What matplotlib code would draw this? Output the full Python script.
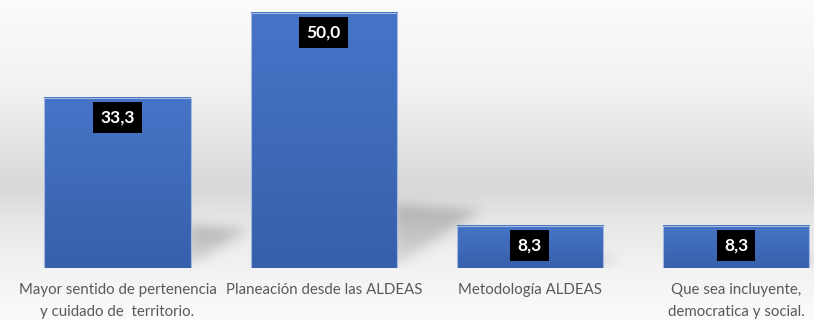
import numpy as np
import matplotlib
matplotlib.use("Agg")
import matplotlib.pyplot as plt
from matplotlib.colors import LinearSegmentedColormap

categories = [
    "Mayor sentido de pertenencia\ny cuidado de  territorio.",
    "Planeación desde las ALDEAS",
    "Metodología ALDEAS",
    "Que sea incluyente,\ndemocratica y social.",
]
values = [33.3, 50.0, 8.3, 8.3]
value_labels = ["33,3", "50,0", "8,3", "8,3"]

plt.rcParams["font.family"] = ["Lato", "DejaVu Sans"]

W, H, DPI = 8.14, 3.2, 100
fig = plt.figure(figsize=(W, H), dpi=DPI)

# Background: soft vertical grey gradient over the whole figure
bg = fig.add_axes([0, 0, 1, 1], zorder=0)
bg.set_axis_off()
stops = [(0.0, "#fbfbfb"), (0.30, "#f1f1f1"), (0.57, "#dadada"),
         (0.60, "#d9d9d9"), (0.68, "#e6e6e6"), (0.84, "#f2f2f2"),
         (1.0, "#fbfbfb")]
bg_cmap = LinearSegmentedColormap.from_list("bg", stops)
grad = np.linspace(0, 1, 320).reshape(-1, 1)
bg.imshow(grad, aspect="auto", cmap=bg_cmap, extent=[0, 1, 0, 1],
          origin="upper", vmin=0, vmax=1)
bg.set_xlim(0, 1)
bg.set_ylim(0, 1)

# Main plotting axes
ax = fig.add_axes([0, 52 / 320, 1, 268 / 320], zorder=1)
ax.patch.set_alpha(0)
x = np.arange(len(values))
width = 0.71
xlim = (-0.570, 3.378)
ylim = (0, 52.45)
ax.set_xlim(*xlim)
ax.set_ylim(*ylim)

# Blurred perspective shadows behind each bar
nx, ny = 814, 268
gx = np.linspace(xlim[0], xlim[1], nx)
gy = np.linspace(ylim[1], ylim[0], ny)
XX, YY = np.meshgrid(gx, gy)
mask = np.zeros((ny, nx))


def in_triangle(px, py, a, b, c):
    def sign(p1x, p1y, p2, p3):
        return (p1x - p3[0]) * (p2[1] - p3[1]) - (p2[0] - p3[0]) * (p1y - p3[1])
    d1 = sign(px, py, a, b)
    d2 = sign(px, py, b, c)
    d3 = sign(px, py, c, a)
    neg = (d1 < 0) | (d2 < 0) | (d3 < 0)
    pos = (d1 > 0) | (d2 > 0) | (d3 > 0)
    return ~(neg & pos)


for xi, v in zip(x, values):
    xr = xi + width / 2
    a = (xr - 0.02, 0.0)
    b = (xr - 0.02, 0.25 * v)
    c = (xr + 0.0082 * v, 0.225 * v)
    tri = in_triangle(XX, YY, a, b, c)
    # darker near the top edge of the shadow
    shade = np.clip(YY / (0.24 * v), 0, 1) * 0.6 + 0.4
    mask = np.maximum(mask, tri * shade)


def blur(img, sigma):
    r = int(3 * sigma)
    k = np.exp(-0.5 * (np.arange(-r, r + 1) / sigma) ** 2)
    k /= k.sum()
    img = np.apply_along_axis(lambda m: np.convolve(m, k, mode="same"), 1, img)
    img = np.apply_along_axis(lambda m: np.convolve(m, k, mode="same"), 0, img)
    return img


mask = blur(mask, 6)
shadow = np.zeros((ny, nx, 4))
shadow[..., :3] = 0.35
shadow[..., 3] = np.clip(mask * 0.36, 0, 1)
ax.imshow(shadow, extent=[xlim[0], xlim[1], ylim[0], ylim[1]],
          aspect="auto", origin="upper", zorder=1, interpolation="bilinear")

# Gradient-filled bars
bar_cmap = LinearSegmentedColormap.from_list("bar", ["#3760ab", "#4674c7"])
bars = ax.bar(x, values, width=width, color="none",
              edgecolor="#a4b8e0", linewidth=0.8, zorder=3)
for rect in bars:
    x0, y0 = rect.get_x(), rect.get_y()
    w, h = rect.get_width(), rect.get_height()
    g = np.linspace(0, 1, 100).reshape(-1, 1)
    ax.imshow(g, extent=[x0, x0 + w, y0, y0 + h], origin="lower",
              aspect="auto", cmap=bar_cmap, vmin=0, vmax=1, zorder=2)

# Value labels in black boxes just below each bar top
for xi, v, lab in zip(x, values, value_labels):
    ax.annotate(lab, xy=(xi, v), xytext=(0, -14.2), textcoords="offset points",
                ha="center", va="center", color="white", fontsize=12.5,
                fontweight="bold", zorder=5,
                bbox=dict(boxstyle="square,pad=0.42", fc="black", ec="none"))

ax.set_xlim(*xlim)
ax.set_ylim(*ylim)
ax.set_xticks(x)
ax.set_xticklabels(categories, color="#595959", fontsize=10.8, linespacing=1.75)
ax.tick_params(axis="x", length=0, pad=10.5)
ax.set_yticks([])
for s in ax.spines.values():
    s.set_visible(False)

fig.savefig("out.png", dpi=DPI)
